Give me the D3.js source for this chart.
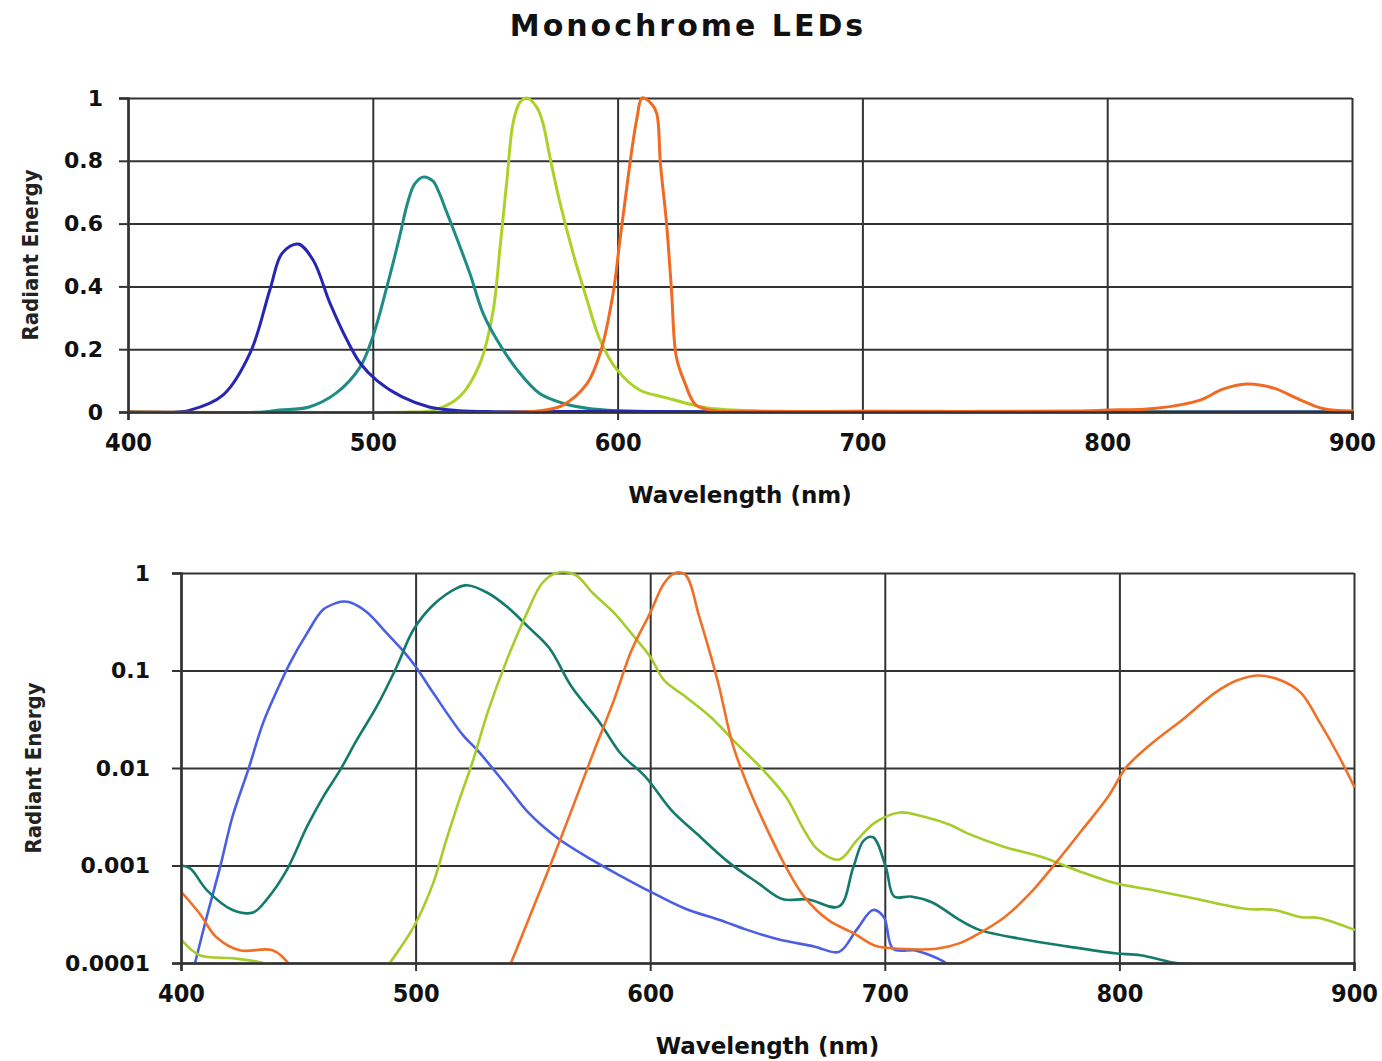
<!DOCTYPE html>
<html>
<head>
<meta charset="utf-8">
<script src="https://cdn.jsdelivr.net/npm/d3@7"></script>
<style>
  html, body { margin: 0; padding: 0; background: #fff; }
  svg { display: block; }
</style>
</head>
<body>
<svg id="chart" width="1382" height="1061"></svg>
<script>
// ---------- DATA ----------
const titleText = "Monochrome LEDs";
const xLabelText = "Wavelength (nm)";
const yLabelText = "Radiant Energy";

const xTicks = [400, 500, 600, 700, 800, 900];
const topYTicks = [0, 0.2, 0.4, 0.6, 0.8, 1];
const topYTickLabels = ["0", "0.2", "0.4", "0.6", "0.8", "1"];
const botYTicks = [0.0001, 0.001, 0.01, 0.1, 1];
const botYTickLabels = ["0.0001", "0.001", "0.01", "0.1", "1"];

// Top (linear) chart series
const topBlueNm  = [400, 420, 425, 438.8, 450, 458, 463, 469.5, 475.6, 482.5, 489.4, 494.8, 501.7, 512, 523, 535, 550, 600, 650, 900];
const topBlueVal = [0, 0, 0.005, 0.054, 0.19, 0.39, 0.506, 0.535, 0.484, 0.347, 0.23, 0.156, 0.10, 0.048, 0.016, 0.004, 0.001, 0.002, 0, 0];

const topTealNm  = [400, 455, 462, 474, 485, 494.8, 500, 505.8, 511, 514, 517, 520.5, 524.6, 527, 530, 534, 539.7, 545, 550.7, 559, 568, 577.7, 587.5, 600, 620, 650, 900];
const topTealVal = [0, 0, 0.006, 0.016, 0.06, 0.143, 0.24, 0.40, 0.56, 0.66, 0.725, 0.748, 0.735, 0.70, 0.64, 0.56, 0.44, 0.315, 0.23, 0.134, 0.06, 0.028, 0.012, 0.004, 0.001, 0, 0];

const topGreenNm  = [400, 515, 524.6, 535.6, 543.8, 549, 552, 554.8, 557.3, 560, 563, 567, 569.5, 572.4, 576.5, 581.8, 587.5, 592.8, 599.8, 609, 620, 631, 640, 660, 700, 900];
const topGreenVal = [0, 0, 0.005, 0.05, 0.155, 0.315, 0.525, 0.74, 0.92, 0.985, 1.0, 0.97, 0.92, 0.81, 0.665, 0.506, 0.357, 0.23, 0.134, 0.07, 0.045, 0.022, 0.01, 0.003, 0.002, 0];

const topOrangeNm  = [400, 560, 570, 577.7, 587.5, 593, 598, 601, 604, 606, 608, 610, 614, 616, 617.5, 620, 622, 624, 627.5, 632, 640, 650, 700, 790, 800, 819, 838, 847, 857, 868, 879, 888, 900];
const topOrangeVal = [0, 0, 0.006, 0.022, 0.09, 0.19, 0.37, 0.55, 0.73, 0.845, 0.94, 1.0, 0.98, 0.95, 0.79, 0.60, 0.39, 0.175, 0.092, 0.022, 0.004, 0.002, 0.002, 0.003, 0.006, 0.011, 0.038, 0.072, 0.089, 0.076, 0.038, 0.011, 0.003];

// Bottom (log) chart series
const botBlueNm  = [406, 411, 416.6, 422, 428.6, 435, 441, 446.5, 453.7, 460.5, 466.5, 469.5, 472, 479, 487.8, 494.6, 500, 507.5, 520, 526.6, 539, 548, 560, 575, 587.5, 600, 615, 630, 641, 654.5, 669.8, 680.5, 688, 695, 699.6, 703.5, 712.5, 717, 726, 735];
const botBlueVal = [1.0e-4, 3.0e-4, 9.5e-4, 3.2e-3, 9.5e-3, 0.029, 0.063, 0.12, 0.24, 0.42, 0.495, 0.51, 0.50, 0.40, 0.24, 0.16, 0.11, 0.059, 0.022, 0.015, 6.5e-3, 3.5e-3, 1.95e-3, 1.15e-3, 7.8e-4, 5.4e-4, 3.6e-4, 2.75e-4, 2.2e-4, 1.75e-4, 1.48e-4, 1.3e-4, 2.2e-4, 3.5e-4, 2.95e-4, 1.4e-4, 1.35e-4, 1.26e-4, 1.0e-4, 6e-5];

const botTealNm  = [400, 404, 411, 422, 430.7, 436.6, 445, 453.7, 460.5, 467.8, 475, 483.5, 492, 499, 507.5, 517.6, 522, 531, 539, 548, 557, 566.5, 578.6, 587.5, 598, 609, 620, 633.6, 646, 656.6, 667, 680.5, 686.5, 691, 695, 700.5, 704, 711, 720, 732, 740, 759, 777.7, 798, 809, 822, 830, 840];
const botTealVal = [1.0e-3, 9.3e-4, 5.6e-4, 3.5e-4, 3.3e-4, 4.5e-4, 8.9e-4, 2.5e-3, 5.0e-3, 9.5e-3, 0.0195, 0.043, 0.11, 0.26, 0.47, 0.70, 0.75, 0.62, 0.45, 0.28, 0.17, 0.068, 0.029, 0.014, 8.1e-3, 3.7e-3, 2.1e-3, 1.07e-3, 6.6e-4, 4.5e-4, 4.5e-4, 3.8e-4, 9.5e-4, 1.8e-3, 1.95e-3, 9.5e-4, 4.8e-4, 4.8e-4, 4.2e-4, 2.75e-4, 2.2e-4, 1.75e-4, 1.48e-4, 1.26e-4, 1.2e-4, 1.02e-4, 9.5e-5, 8e-5];

const botGreenNm  = [400, 408, 422, 435, 445, 460, 480, 489, 499, 507.5, 513, 519, 524, 531, 539, 546.6, 554, 560, 568, 575.6, 584.6, 592, 600, 606, 615, 626, 636.6, 647, 658, 665.6, 671.5, 680.5, 688, 695.8, 706.5, 716, 728, 735, 751, 766.6, 782, 798, 814, 830, 853.5, 866, 877.4, 885, 900];
const botGreenVal = [1.75e-4, 1.2e-4, 1.12e-4, 1.0e-4, 8e-5, 3e-5, 5e-5, 1.0e-4, 2.3e-4, 6.6e-4, 1.8e-3, 5e-3, 0.011, 0.039, 0.13, 0.35, 0.79, 1.0, 0.96, 0.62, 0.39, 0.24, 0.138, 0.079, 0.054, 0.033, 0.018, 0.0102, 5.0e-3, 2.3e-3, 1.45e-3, 1.15e-3, 1.8e-3, 2.75e-3, 3.5e-3, 3.2e-3, 2.6e-3, 2.15e-3, 1.55e-3, 1.23e-3, 8.9e-4, 6.6e-4, 5.6e-4, 4.7e-4, 3.6e-4, 3.5e-4, 2.95e-4, 2.9e-4, 2.2e-4];

const botOrangeNm  = [400, 408, 415, 425, 439, 446.5, 460, 530, 540.6, 548, 557, 566.5, 575.6, 584.6, 592, 600, 606, 610.6, 615, 621, 629, 635, 641, 648.5, 658, 665.6, 676, 687, 696, 706.5, 722, 732, 740, 751, 762, 773, 784, 795, 803, 814, 826.7, 840.7, 850, 859.5, 869, 877.4, 885.5, 893, 900];
const botOrangeVal = [5.4e-4, 3.2e-4, 1.85e-4, 1.35e-4, 1.35e-4, 9.5e-5, 3e-5, 3e-5, 1.0e-4, 2.75e-4, 9.5e-4, 3.7e-3, 0.014, 0.05, 0.16, 0.39, 0.79, 1.0, 0.96, 0.35, 0.074, 0.018, 7.1e-3, 2.75e-3, 9.5e-4, 4.8e-4, 2.75e-4, 2.0e-4, 1.5e-4, 1.4e-4, 1.4e-4, 1.6e-4, 2.0e-4, 2.95e-4, 5.2e-4, 1.07e-3, 2.3e-3, 5.0e-3, 0.0102, 0.018, 0.031, 0.059, 0.079, 0.089, 0.079, 0.059, 0.029, 0.014, 6.5e-3];

const topColors = { blue: "#2626b4", teal: "#1e8c84", green: "#acd22a", orange: "#f26a22" };
const botColors = { blue: "#4a5fe2", teal: "#137a6c", green: "#a6cc2a", orange: "#f07026" };

// ---------- DRAW ----------
const svg = d3.select("#chart");
const GRID = "#333333";

svg.append("text")
  .attr("x", 688).attr("y", 36)
  .attr("text-anchor", "middle")
  .attr("font-family", "DejaVu Sans")
  .attr("font-weight", "bold")
  .attr("font-size", 30)
  .attr("letter-spacing", 3)
  .attr("fill", "#111")
  .text(titleText);

function zip(nm, val) { return nm.map((d, i) => ({ x: d, y: val[i] })); }

function drawPanel(cfg) {
  const g = svg.append("g");
  const x = d3.scaleLinear().domain([400, 900]).range([cfg.x0, cfg.x1]);
  const y = cfg.log
    ? d3.scaleLog().domain([1e-4, 1]).range([cfg.y0, cfg.y1])
    : d3.scaleLinear().domain([0, 1]).range([cfg.y0, cfg.y1]);

  // grid
  g.append("g").attr("transform", `translate(0,${cfg.y0})`)
    .call(d3.axisBottom(x).tickValues(xTicks).tickSize(-(cfg.y0 - cfg.y1)).tickFormat(""))
    .call(a => a.select(".domain").remove())
    .call(a => a.selectAll("line").attr("stroke", GRID).attr("stroke-width", 2));
  g.append("g").attr("transform", `translate(${cfg.x0},0)`)
    .call(d3.axisLeft(y).tickValues(cfg.yTicks).tickSize(-(cfg.x1 - cfg.x0)).tickFormat(""))
    .call(a => a.select(".domain").remove())
    .call(a => a.selectAll("line").attr("stroke", GRID).attr("stroke-width", 2));

  // series
  const clipId = "clip" + cfg.id;
  svg.append("defs").append("clipPath").attr("id", clipId)
    .append("rect").attr("x", cfg.x0).attr("y", cfg.y1 - 3)
    .attr("width", cfg.x1 - cfg.x0 + 2).attr("height", cfg.y0 - cfg.y1 + 4);
  const line = d3.line().x(d => x(d.x)).y(d => y(d.y)).curve(cfg.curve);
  const sg = g.append("g").attr("clip-path", `url(#${clipId})`);
  cfg.series.forEach(s => {
    sg.append("path").datum(zip(s.nm, s.val))
      .attr("d", line).attr("fill", "none")
      .attr("stroke", s.color).attr("stroke-width", cfg.lw)
      .attr("stroke-linejoin", "round").attr("stroke-linecap", "round");
  });

  // axes
  const ax = g.append("g").attr("transform", `translate(0,${cfg.y0})`)
    .call(d3.axisBottom(x).tickValues(xTicks).tickSize(8).tickPadding(13).tickFormat(d3.format("d")));
  ax.select(".domain").attr("stroke", GRID).attr("stroke-width", 2.5);
  ax.selectAll("line").attr("stroke", GRID).attr("stroke-width", 2);
  ax.selectAll("text").attr("font-family", "DejaVu Sans Condensed").attr("font-weight", "bold")
    .attr("font-size", 25).attr("fill", "#111");

  const ay = g.append("g").attr("transform", `translate(${cfg.x0},0)`)
    .call(d3.axisLeft(y).tickValues(cfg.yTicks).tickSize(9).tickPadding(cfg.yPad)
      .tickFormat((d, i) => cfg.yLabels[i]));
  ay.select(".domain").attr("stroke", GRID).attr("stroke-width", 2.5);
  ay.selectAll("line").attr("stroke", GRID).attr("stroke-width", 2);
  ay.selectAll("text").attr("font-family", "DejaVu Sans").attr("font-weight", "bold")
    .attr("font-size", 22).attr("fill", "#111");

  // labels
  g.append("text")
    .attr("x", (cfg.x0 + cfg.x1) / 2).attr("y", cfg.xLabelY)
    .attr("text-anchor", "middle")
    .attr("font-family", "DejaVu Sans").attr("font-weight", "bold")
    .attr("font-size", 23).attr("fill", "#111")
    .text(xLabelText);
  g.append("text")
    .attr("transform", `translate(${cfg.yLabelX},${(cfg.y0 + cfg.y1) / 2}) rotate(-90)`)
    .attr("text-anchor", "middle")
    .attr("font-family", "DejaVu Sans Condensed").attr("font-weight", "bold")
    .attr("font-size", 22).attr("fill", "#222")
    .text(yLabelText);
}

drawPanel({
  id: "top", log: false, x0: 128, x1: 1352, y0: 412, y1: 98,
  yTicks: topYTicks, yLabels: topYTickLabels, yPad: 16, lw: 3,
  xLabelY: 503, yLabelX: 38, curve: d3.curveCatmullRom.alpha(0.5),
  series: [
    { nm: topGreenNm, val: topGreenVal, color: topColors.green },
    { nm: topTealNm, val: topTealVal, color: topColors.teal },
    { nm: topBlueNm, val: topBlueVal, color: topColors.blue },
    { nm: topOrangeNm, val: topOrangeVal, color: topColors.orange }
  ]
});

drawPanel({
  id: "bot", log: true, x0: 181, x1: 1354, y0: 963, y1: 573,
  yTicks: botYTicks, yLabels: botYTickLabels, yPad: 22, lw: 2.6,
  xLabelY: 1054, yLabelX: 41, curve: d3.curveCatmullRom.alpha(0.5),
  series: [
    { nm: botBlueNm, val: botBlueVal, color: botColors.blue },
    { nm: botTealNm, val: botTealVal, color: botColors.teal },
    { nm: botGreenNm, val: botGreenVal, color: botColors.green },
    { nm: botOrangeNm, val: botOrangeVal, color: botColors.orange }
  ]
});
</script>
</body>
</html>
